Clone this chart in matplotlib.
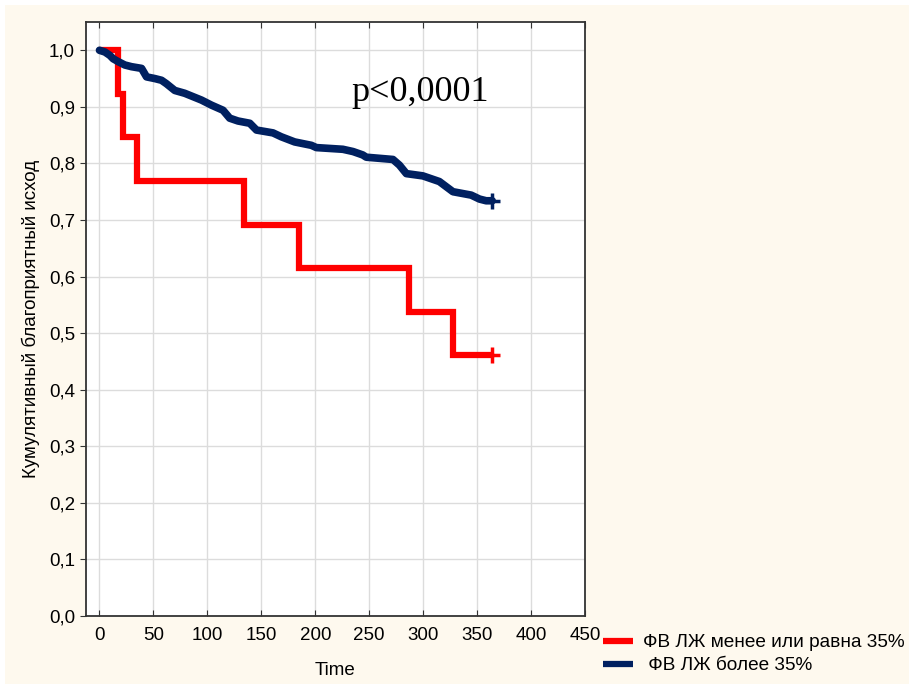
import matplotlib
matplotlib.use("Agg")
import matplotlib.pyplot as plt
from matplotlib.patches import Rectangle
from matplotlib.ticker import FuncFormatter

# Group 1: LVEF <= 35% (Kaplan-Meier step curve)
red_t = [0, 17, 21.6, 34.6, 133.7, 184.6, 286.5, 327.3, 364]
red_s = [1.0, 0.923, 0.846, 0.769, 0.692, 0.615, 0.538, 0.462, 0.462]

# Group 2: LVEF > 35%
blue_t = [0, 5, 9.6, 12.7, 17.3, 23.5, 29.7, 39, 43.6, 51.3, 57.5, 62, 69.8, 79,
          94.5, 103.8, 114.5, 120.7, 128.4, 139.3, 145.5, 160.8, 168.6, 180.9,
          196.4, 201, 225.6, 235, 244, 247.3, 272, 278, 284.4, 299.7, 315, 327.6,
          344.5, 352.2, 358.4, 364]
blue_s = [1.0, 0.997, 0.991, 0.985, 0.98, 0.974, 0.971, 0.968, 0.953, 0.95, 0.947,
          0.941, 0.929, 0.924, 0.912, 0.903, 0.894, 0.88, 0.875, 0.871, 0.859,
          0.854, 0.847, 0.838, 0.832, 0.828, 0.825, 0.821, 0.815, 0.811, 0.807,
          0.797, 0.782, 0.778, 0.768, 0.75, 0.744, 0.737, 0.734, 0.734]

labels = ["ФВ ЛЖ менее или равна 35%", " ФВ ЛЖ более 35%"]
xticks = list(range(0, 451, 50))
yticks = [i / 10 for i in range(0, 11)]

RED = "#FF0000"
BLUE = "#002060"
CREAM = "#FEF9EE"

plt.rcParams['font.family'] = ['Liberation Sans', 'DejaVu Sans']

fig = plt.figure(figsize=(9.09, 6.84), dpi=100, facecolor="white")
fig.patches.append(Rectangle((5 / 909, 0), 1, 1 - 5 / 684, transform=fig.transFigure,
                             facecolor=CREAM, edgecolor="none", zorder=-10))

ax = fig.add_axes([86 / 909, 1 - 616 / 684, (585 - 86) / 909, (616 - 22) / 684])
ax.set_facecolor("white")

l1, = ax.plot(red_t, red_s, drawstyle="steps-post", color=RED, lw=4.5,
              solid_joinstyle="miter", solid_capstyle="butt", zorder=3)
ax.plot([red_t[-1]], [red_s[-1]], marker="+", color=RED, ms=11, mew=2.5, zorder=4)
l2, = ax.plot(blue_t, blue_s, color=BLUE, lw=5.5, solid_joinstyle="round",
              solid_capstyle="round", zorder=3)
ax.plot([blue_t[-1]], [blue_s[-1]], marker="+", color=BLUE, ms=11, mew=2.5, zorder=4)

ax.set_xlim(-12.5, 450)
ax.set_ylim(0, 1.05)
ax.set_xticks(xticks)
ax.set_yticks(yticks)
ax.yaxis.set_major_formatter(FuncFormatter(lambda v, p: f"{v:.1f}".replace(".", ",")))
ax.grid(True, color="#DCDCDC", lw=1)
ax.set_axisbelow(True)

ax.tick_params(axis="x", direction="in", top=True, length=4, labelsize=13.5, pad=8,
               color="#333333")
ax.tick_params(axis="y", direction="out", length=4, labelsize=13.5, pad=4,
               color="#333333")
for s in ax.spines.values():
    s.set_color("#333333")
    s.set_linewidth(1.3)

ax.set_xlabel("Time", fontsize=13.5, labelpad=13)
ax.set_ylabel("Кумулятивный благоприятный исход", fontsize=13.5, labelpad=6)

ax.text(297, 0.925, "p<0,0001", fontsize=26, family="Liberation Serif",
        ha="center", va="center")

leg = fig.legend([l1, l2], labels, loc="upper left",
                 bbox_to_anchor=(603 / 909, 1 - 634 / 684), frameon=False, fontsize=13.7,
                 handlelength=1.6, handletextpad=0.5, labelspacing=0.3, borderaxespad=0,
                 borderpad=0)
for h in leg.get_lines():
    h.set_linewidth(4.5)
    h.set_solid_capstyle("butt")

fig.savefig("out.png", dpi=100, facecolor=fig.get_facecolor())
